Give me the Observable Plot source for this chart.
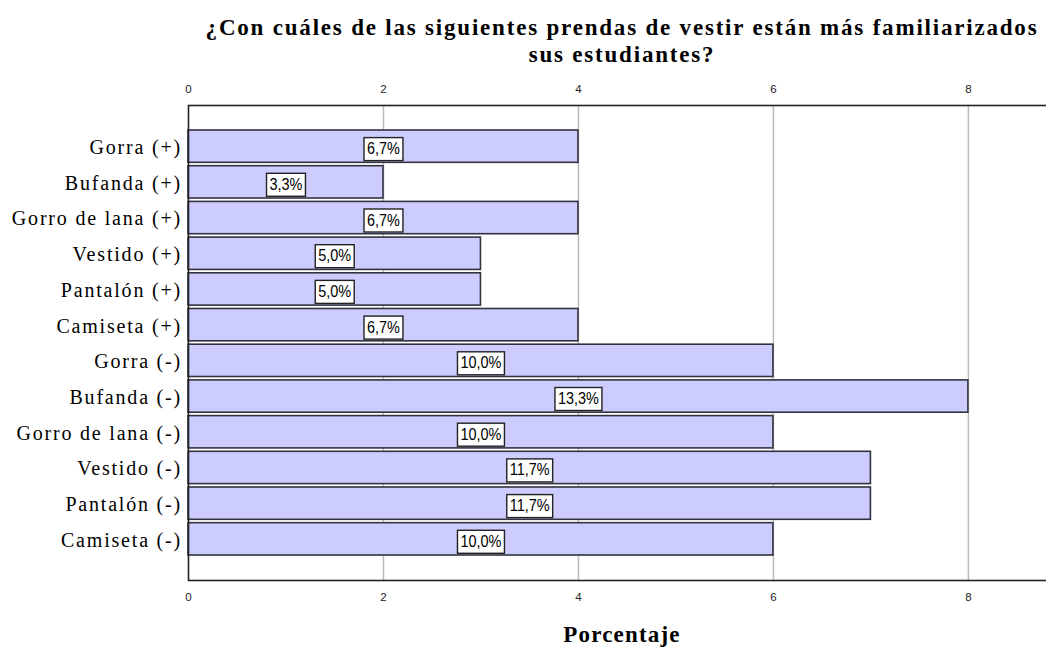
<!DOCTYPE html>
<html>
<head>
<meta charset="utf-8">
<script src="https://cdn.jsdelivr.net/npm/d3@7"></script>
<script src="https://cdn.jsdelivr.net/npm/@observablehq/plot@0.6"></script>
<style>
  html, body { margin: 0; padding: 0; background: #fff; }
  #wrap { position: relative; width: 1046px; height: 647px; overflow: hidden; background: #fff; }
  #chart { position: absolute; left: 0; top: 0; width: 1080px; }
  #chart svg { max-width: none !important; }
  .title { position: absolute; left: 198px; width: 848px; text-align: center; white-space: nowrap;
           font-family: "Liberation Serif", "Times New Roman", serif; font-weight: bold;
           color: #000; font-size: 23px; }
  #t1 { top: 14px; line-height: 27px; letter-spacing: 1.8px; }
  #xl { top: 623px; line-height: 23px; letter-spacing: 1.2px; }
</style>
</head>
<body>
<div id="wrap">
  <div id="chart"></div>
  <div class="title" id="t1">¿Con cuáles de las siguientes prendas de vestir están más familiarizados<br>sus estudiantes?</div>
  <div class="title" id="xl">Porcentaje</div>
</div>
<script>
const categories = ["Gorra (+)", "Bufanda (+)", "Gorro de lana (+)", "Vestido (+)", "Pantalón (+)", "Camiseta (+)",
                    "Gorra (-)", "Bufanda (-)", "Gorro de lana (-)", "Vestido (-)", "Pantalón (-)", "Camiseta (-)"];
const counts = [4, 2, 4, 3, 3, 4, 6, 8, 6, 7, 7, 6];
const percentLabels = ["6,7%", "3,3%", "6,7%", "5,0%", "5,0%", "6,7%", "10,0%", "13,3%", "10,0%", "11,7%", "11,7%", "10,0%"];
const xTicks = [0, 2, 4, 6, 8];

const data = categories.map((c, i) => ({cat: c, value: counts[i], label: percentLabels[i]}));

const plot = Plot.plot({
  width: 1080,
  height: 647,
  marginLeft: 188,
  marginRight: 0,
  marginTop: 105,
  marginBottom: 67,
  style: {background: "#fff", overflow: "visible", maxWidth: "none"},
  x: {domain: [0, 9.15], axis: null},
  y: {domain: categories, paddingInner: 0.095, paddingOuter: 0, round: false, insetTop: 25, insetBottom: 25, axis: null},
  marks: [
    Plot.ruleX(xTicks.filter(d => d > 0), {stroke: "#bcbcbc", strokeWidth: 1.5}),
    Plot.barX(data, {x: "value", y: "cat", fill: "#ccccff", stroke: "#333340", strokeWidth: 1.6}),
    Plot.frame({stroke: "#222", strokeWidth: 1.6}),
    Plot.text(data, {y: "cat", text: "cat", frameAnchor: "left", textAnchor: "end", lineAnchor: "middle", dx: -6.5, dy: 1,
      fontFamily: "Liberation Serif", fontSize: 20, fill: "#000"}),
    Plot.text(xTicks, {x: d => d, text: d => String(d), frameAnchor: "top", lineAnchor: "middle", dy: -16,
      fontFamily: "Liberation Sans", fontSize: 11.5, fill: "#222"}),
    Plot.text(xTicks, {x: d => d, text: d => String(d), frameAnchor: "bottom", lineAnchor: "middle", dy: 17,
      fontFamily: "Liberation Sans", fontSize: 11.5, fill: "#222"}),
    Plot.text(data, {x: d => d.value / 2, y: "cat", text: "label", lineAnchor: "middle", dy: 2,
      fontFamily: "Liberation Sans", fontSize: 17, fill: "#000"})
  ]
});
document.getElementById("chart").appendChild(plot);

// letter spacing for category labels
plot.querySelectorAll("text").forEach(t => {
  if (categories.includes(t.textContent)) t.style.letterSpacing = "1.8px";
});

// condensed bar labels with white boxes behind them
plot.querySelectorAll("text").forEach(t => {
  if (!percentLabels.includes(t.textContent)) return;
  const natural = t.getComputedTextLength();
  const len = natural * 0.85;
  t.setAttribute("textLength", len);
  t.setAttribute("lengthAdjust", "spacingAndGlyphs");
  const b = t.getBBox();
  const cx = b.x + b.width / 2;
  const cy = b.y + b.height / 2;
  const w = len + 6, h = 23;
  const r = document.createElementNS("http://www.w3.org/2000/svg", "rect");
  r.setAttribute("x", cx - w / 2);
  r.setAttribute("y", cy - h / 2 + 0.5);
  r.setAttribute("width", w);
  r.setAttribute("height", h);
  r.setAttribute("fill", "#fff");
  r.setAttribute("stroke", "#222");
  r.setAttribute("stroke-width", 1.4);
  const tr = t.getAttribute("transform");
  if (tr) r.setAttribute("transform", tr);
  t.parentNode.insertBefore(r, t);
});
</script>
</body>
</html>
